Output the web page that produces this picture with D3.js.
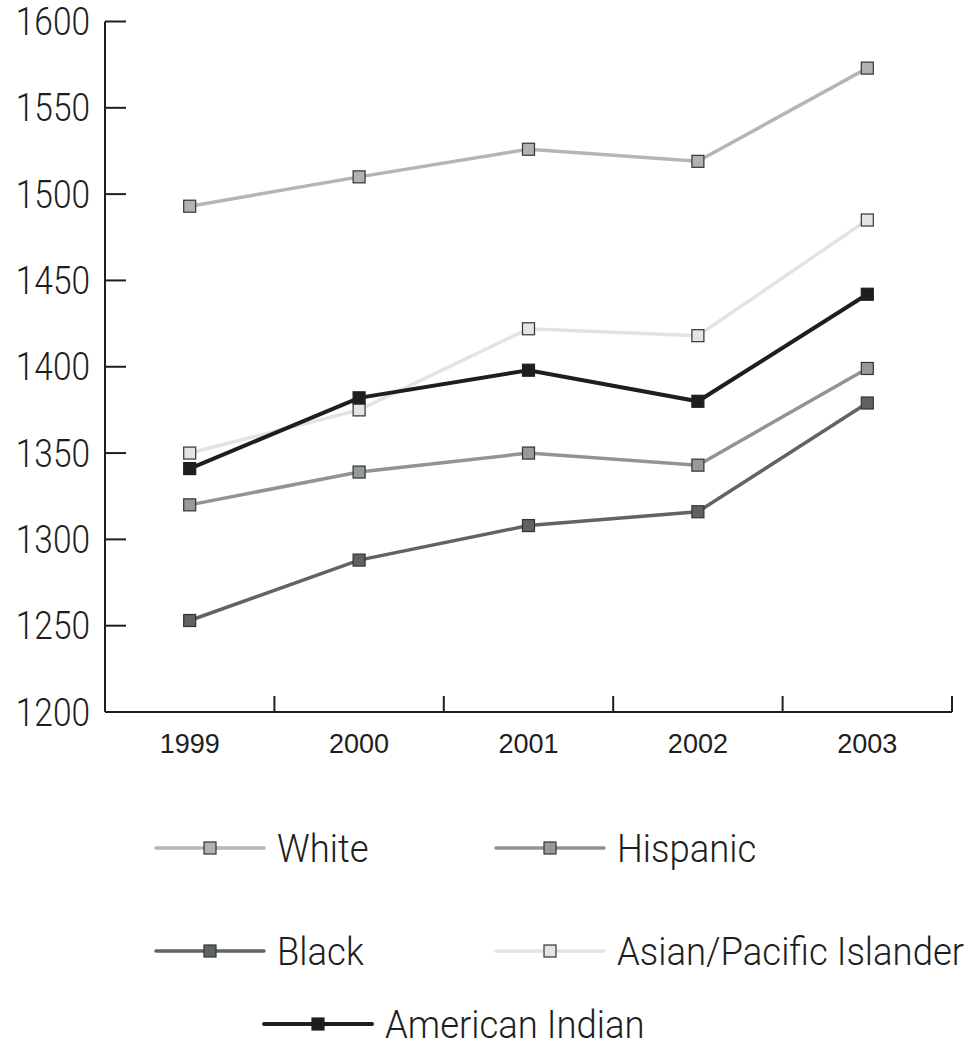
<!DOCTYPE html>
<html><head><meta charset="utf-8">
<script src="https://cdn.jsdelivr.net/npm/d3@7"></script>
<style>body{margin:0;background:#fff}</style>
</head><body>
<svg id="c" width="968" height="1046"></svg>
<script>
const years = ["1999","2000","2001","2002","2003"];
const yTicks = [1200,1250,1300,1350,1400,1450,1500,1550,1600];
const seriesNames = ["White","Hispanic","Black","Asian/Pacific Islander","American Indian"];
const white    = [1493,1510,1526,1519,1573];
const hispanic = [1320,1339,1350,1343,1399];
const black    = [1253,1288,1308,1316,1379];
const asian    = [1350,1375,1422,1418,1485];
const amIndian = [1341,1382,1398,1380,1442];
const seriesValues = [white,hispanic,black,asian,amIndian];
const lineColors = ["#b2b6b7","#8f9595","#5f6566","#e2e3e4","#1e1e1c"];
const markerFills = ["#b0b3b5","#959a9b","#5e6465","#e3e4e5","#1e1e1c"];
const drawOrder = [0,3,4,1,2];

const svg = d3.select("#c");
const pLeft=105, pRight=952, pTop=21.5, pBottom=712;
const x = d3.scaleBand().domain(years).range([pLeft,pRight]);
const y = d3.scaleLinear().domain([1200,1600]).range([pBottom,pTop]);
const txt = "#1e1e1e";

// y axis
const ya = svg.append("g");
ya.append("line").attr("x1",pLeft).attr("x2",pLeft).attr("y1",y(1600)).attr("y2",pBottom).attr("stroke",txt).attr("stroke-width",2);
yTicks.forEach(t=>{
  ya.append("line").attr("x1",pLeft).attr("x2",pLeft+21).attr("y1",y(t)).attr("y2",y(t)).attr("stroke",txt).attr("stroke-width",2);
  ya.append("text").attr("transform",`translate(90,${y(t)}) scale(0.88,1)`)
    .attr("text-anchor","end").attr("dy","0.36em")
    .attr("font-family","Roboto").attr("font-weight",300).attr("font-size",38).attr("fill",txt).text(t);
});
// x axis
const xa = svg.append("g");
xa.append("line").attr("x1",pLeft).attr("x2",pRight).attr("y1",pBottom).attr("y2",pBottom).attr("stroke",txt).attr("stroke-width",2);
years.forEach((yr,i)=>{
  const xe = x(yr)+x.bandwidth();
  xa.append("line").attr("x1",xe).attr("x2",xe).attr("y1",pBottom).attr("y2",pBottom-16).attr("stroke",txt).attr("stroke-width",2);
  xa.append("text").attr("x",x(yr)+x.bandwidth()/2).attr("y",753)
    .attr("text-anchor","middle").attr("font-family","Liberation Sans, Arial").attr("font-size",27).attr("fill",txt).text(yr);
});

const line = d3.line().x((d,i)=>x(years[i])+x.bandwidth()/2).y(d=>y(d));
drawOrder.forEach(s=>{
  const g = svg.append("g");
  g.append("path").datum(seriesValues[s]).attr("d",line).attr("fill","none")
    .attr("stroke",lineColors[s]).attr("stroke-width",s===4?4:3.5);
  g.selectAll("rect").data(seriesValues[s]).join("rect")
    .attr("x",(d,i)=>x(years[i])+x.bandwidth()/2-6).attr("y",d=>y(d)-6)
    .attr("width",12).attr("height",12)
    .attr("fill",markerFills[s]).attr("stroke",s===4?"#1e1e1c":"#333").attr("stroke-width",1.2);
});

// legend
const legendPos = [[156,848],[496,848],[156,951],[496,951],[264,1024]];
seriesNames.forEach((n,s)=>{
  const [lx,ly] = legendPos[s];
  const g = svg.append("g");
  g.append("line").attr("x1",lx).attr("x2",lx+108).attr("y1",ly).attr("y2",ly)
    .attr("stroke",lineColors[s]).attr("stroke-width",s===4?4:3.5).attr("stroke-linecap","round");
  g.append("rect").attr("x",lx+54-6).attr("y",ly-6).attr("width",12).attr("height",12)
    .attr("fill",markerFills[s]).attr("stroke",s===4?"#1e1e1c":"#333").attr("stroke-width",1.2);
  g.append("text").attr("transform",`translate(${lx+121},${ly}) scale(0.96,1)`)
    .attr("dy","0.36em").attr("font-family","Roboto").attr("font-weight",300).attr("font-size",38).attr("fill",txt).text(n);
});
</script>
</body></html>
